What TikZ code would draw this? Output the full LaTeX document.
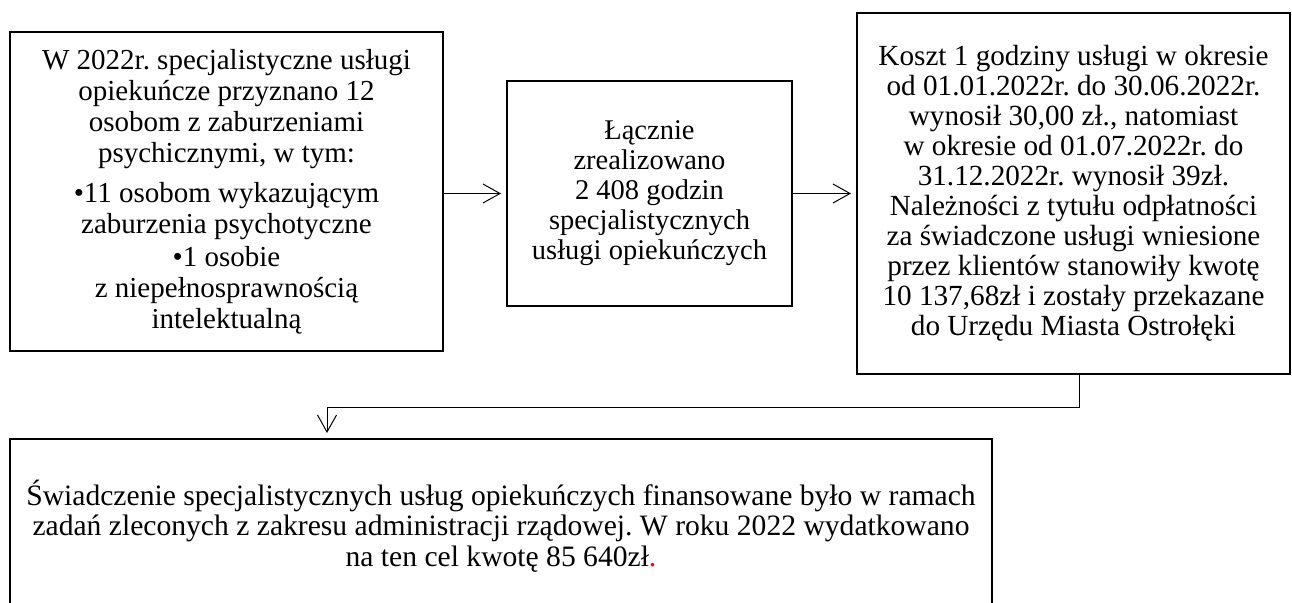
\documentclass[tikz,border=0pt]{standalone}
\usepackage{fontspec}
\setmainfont{Liberation Serif}
\usetikzlibrary{arrows.meta}
\frenchspacing
\tikzset{
  box/.style={draw, line width=2pt, align=center, inner sep=0pt,
    font=\fontsize{29}{31}\selectfont},
  conn/.style={line width=1pt, -{Straight Barb[length=17pt,width=19pt,line width=1pt]}, shorten >=5pt},
}
\begin{document}
\begin{tikzpicture}[x=1pt,y=-1pt]
\useasboundingbox (0,0) rectangle (1292,602);
\node[box, minimum width=433pt, minimum height=319pt] (n1) at (226.5,191.5)
  {W 2022r. specjalistyczne usługi\\opiekuńcze przyznano 12\\osobom z zaburzeniami\\psychicznymi, w tym:\\[9pt]
   •11 osobom wykazującym\\zaburzenia psychotyczne\\[2pt]•1 osobie\\z niepełnosprawnością\\intelektualną};
\node[box, minimum width=285pt, minimum height=225pt, font=\fontsize{28.5}{30}\selectfont] (n2) at (649.5,193.5)
  {Łącznie\\zrealizowano\\2 408 godzin\\specjalistycznych\\usługi opiekuńczych};
\node[box, minimum width=433pt, minimum height=361pt, font=\fontsize{29.2}{30}\selectfont] (n3) at (1073.5,193.5)
  {Koszt 1 godziny usługi w okresie\\od 01.01.2022r. do 30.06.2022r.\\wynosił 30,00 zł., natomiast\\w okresie od 01.07.2022r. do\\31.12.2022r. wynosił 39zł.\\Należności z tytułu odpłatności\\za świadczone usługi wniesione\\przez klientów stanowiły kwotę\\10 137,68zł i zostały przekazane\\do Urzędu Miasta Ostrołęki};
\node[box, minimum width=982pt, minimum height=174pt, font=\fontsize{29.6}{30.5}\selectfont] (n4) at (501,526)
  {Świadczenie specjalistycznych usług opiekuńczych finansowane było w ramach\\zadań zleconych z zakresu administracji rządowej. W roku 2022 wydatkowano\\na ten cel kwotę 85 640zł\textcolor{red}{.}};
\coordinate (c1) at (1079,407);
\coordinate (c2) at (327,407);
\draw[conn] (n1.east |- n2.west) -- (n2.west);
\draw[conn] (n2.east) -- (n3.west);
\draw[conn] (n3.south -| c1) -- (c1) -- (c2) -- (c2 |- n4.north);
\end{tikzpicture}
\end{document}
